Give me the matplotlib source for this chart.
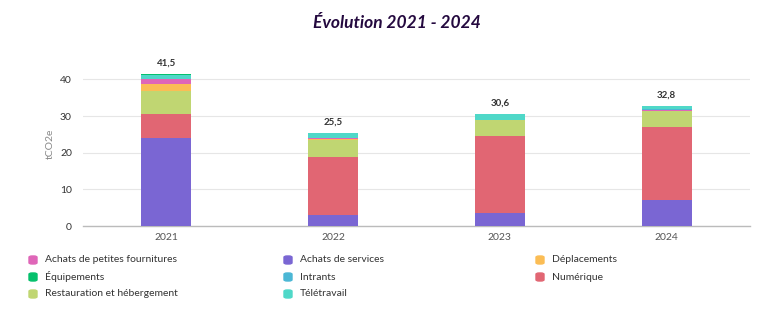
import numpy as np
import matplotlib
matplotlib.use('Agg')
import matplotlib.pyplot as plt
from matplotlib.patches import FancyBboxPatch

plt.rcParams['font.family'] = ['Lato', 'DejaVu Sans']

# données (tCO2e)
years = ['2021', '2022', '2023', '2024']
totals = [41.5, 25.5, 30.6, 32.8]

services = [24.0, 2.9, 3.5, 7.1]
numerique = [6.6, 16.0, 21.1, 19.9]
restauration = [6.3, 4.7, 4.2, 4.3]
deplacements = [1.9, 0.1, 0.2, 0.0]
fournitures = [1.2, 0.2, 0.0, 0.4]
intrants = [0.0, 0.0, 0.0, 0.1]
teletravail = [1.3, 1.6, 1.6, 1.0]
equipements = [0.2, 0.0, 0.0, 0.0]

# ordre d'empilement (bas -> haut)
stack = [
    ('Achats de services', services, '#7a66d3'),
    ('Numérique', numerique, '#e16673'),
    ('Restauration et hébergement', restauration, '#c0d672'),
    ('Déplacements', deplacements, '#fbbd55'),
    ('Achats de petites fournitures', fournitures, '#df66b8'),
    ('Intrants', intrants, '#4bb7d5'),
    ('Télétravail', teletravail, '#4fd8c8'),
    ('Équipements', equipements, '#05c06c'),
]
colors = {name: c for name, _, c in stack}

# ordre de la légende (ligne par ligne)
legend_order = ['Achats de petites fournitures', 'Achats de services', 'Déplacements',
                'Équipements', 'Intrants', 'Numérique',
                'Restauration et hébergement', 'Télétravail']

fig = plt.figure(figsize=(7.72, 3.26), dpi=100)
ax = fig.add_axes([0.1075, 0.3067, 0.864, 0.506])

x = np.arange(len(years))
bottom = np.zeros(len(years))
for name, vals, c in stack:
    vals = np.array(vals)
    ax.bar(x, vals, width=0.3, bottom=bottom, color=c, edgecolor='none', zorder=3)
    bottom += vals

for xi, t in zip(x, totals):
    ax.text(xi, t + 1.6, f'{t:.1f}'.replace('.', ','), ha='center', va='bottom',
            fontsize=7, color='#333333', fontweight='bold')

ax.set_xlim(-0.5, 3.5)
ax.set_ylim(0, 45)
ax.set_yticks([0, 10, 20, 30, 40])
ax.set_xticks(x)
ax.set_xticklabels(years)
ax.tick_params(axis='y', length=0, labelsize=7.5, labelcolor='#333333', pad=8)
ax.tick_params(axis='x', length=0, labelsize=7.5, labelcolor='#555555', pad=5)
ax.grid(axis='y', color='#e6e6e6', linewidth=0.8, zorder=0)
for s in ['top', 'right', 'left']:
    ax.spines[s].set_visible(False)
ax.spines['bottom'].set_color('#bbbbbb')
ax.spines['bottom'].set_linewidth(1)
ax.set_ylabel('tCO2e', fontsize=7.5, color='#888888', labelpad=4)

fig.text(0.514, 0.93, 'Évolution 2021 - 2024', ha='center', va='center',
         fontsize=12.5, fontweight='bold', fontstyle='italic', color='#24093f')

# légende manuelle
col_x = [33, 288, 540]
row_y = [260, 277, 294]
W, H = 772, 326
for i, name in enumerate(legend_order):
    cx = col_x[i % 3]
    cy = row_y[i // 3]
    box = FancyBboxPatch(((cx - 4) / W, (H - cy - 4) / H), 8 / W, 8 / H,
                         boxstyle='round,pad=0,rounding_size=0.004',
                         transform=fig.transFigure, color=colors[name])
    fig.patches.append(box)
    fig.text((cx + 12) / W, (H - cy) / H, name, ha='left', va='center',
             fontsize=7.5, color='#333333')

fig.savefig('out.png', dpi=100)
